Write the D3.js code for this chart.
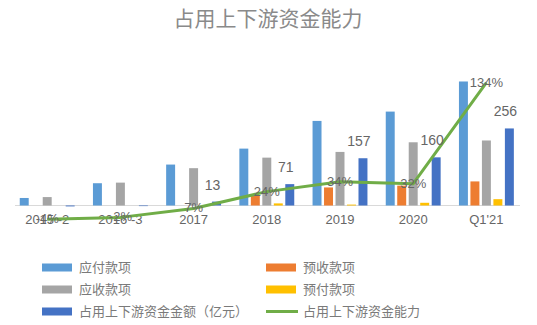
<!DOCTYPE html>
<html><head><meta charset="utf-8">
<script src="https://cdn.jsdelivr.net/npm/d3@7"></script>
<style>body{margin:0;background:#fff}svg{display:block}</style>
</head><body>
<script>
const categories = ["2015 -2", "2016 -3", "2017", "2018", "2019", "2020", "Q1'21"];
const payables = [25, 74, 136, 189, 281, 312, 412];        // 应付款项
const advancesReceived = [0, 0, 0, 33, 60, 66, 80];        // 预收款项
const receivables = [28, 76, 124, 159, 178, 210, 216];     // 应收款项
const prepayments = [0, 0, 0, 7, 3, 9, 21];                // 预付款项
const occupiedAmount = [-3, -2, 13, 71, 157, 160, 256];    // 占用上下游资金金额（亿元）
const occupiedRatio = [-0.04, -0.02, 0.07, 0.24, 0.34, 0.32, 1.34]; // 占用上下游资金能力
const amountLabels = ["", "", "13", "71", "157", "160", "256"];
const ratioLabels = ["-4%", "-2%", "7%", "24%", "34%", "32%", "134%"];

const seriesNames = ["应付款项", "预收款项", "应收款项", "预付款项", "占用上下游资金金额（亿元）"];
const seriesColors = ["#5B9BD5", "#ED7D31", "#A5A5A5", "#FFC000", "#4472C4"];
const lineName = "占用上下游资金能力";
const lineColor = "#70AD47";

const W = 537, H = 325;
const svg = d3.select("body").append("svg").attr("width", W).attr("height", H);
const font = "'Liberation Sans', Arial, sans-serif";
const cjk = "'Noto Sans CJK SC', sans-serif";

svg.append("text").attr("x", 268).attr("y", 26).attr("text-anchor", "middle")
  .attr("font-family", cjk).attr("font-size", 21).attr("fill", "#8a8a8a").text("占用上下游资金能力");

const x0 = d3.scaleBand().domain(categories).range([10.6, 523]).paddingInner(0.25).paddingOuter(0.125);
const x1 = d3.scaleBand().domain(d3.range(5)).range([0, x0.bandwidth()]).paddingInner(0.22);
const y = d3.scaleLinear().domain([0, 450]).range([205.5, 205.5 - 450 * 0.301]);
const yR = d3.scaleLinear().domain([0, 1.34]).range([215.4, 82.7]);

const series = [payables, advancesReceived, receivables, prepayments, occupiedAmount];

// baseline
svg.append("line").attr("x1", 15).attr("x2", 520).attr("y1", y(0)).attr("y2", y(0))
  .attr("stroke", "#d9d9d9").attr("stroke-width", 1);

const groups = svg.append("g").selectAll("g").data(categories).join("g")
  .attr("transform", d => `translate(${x0(d)},0)`);
groups.selectAll("rect").data((d, i) => series.map((s, k) => ({k, v: s[i]}))).join("rect")
  .attr("x", d => x1(d.k)).attr("width", x1.bandwidth())
  .attr("y", d => Math.min(y(d.v), y(0))).attr("height", d => Math.abs(y(d.v) - y(0)))
  .attr("fill", d => seriesColors[d.k]);

// category axis labels
const xAxis = d3.axisBottom(x0).tickSize(0).tickPadding(9);
const ax = svg.append("g").attr("transform", `translate(0,${y(0)})`).call(xAxis);
ax.select(".domain").remove();
ax.selectAll("text").attr("font-family", font).attr("font-size", 13).attr("fill", "#666666");

// line
const cx = c => x0(c) + x0.bandwidth() / 2;
const line = d3.line().x((d, i) => cx(categories[i])).y(d => yR(d));
svg.append("path").datum(occupiedRatio).attr("d", line).attr("fill", "none")
  .attr("stroke", lineColor).attr("stroke-width", 3).attr("stroke-linejoin", "round");

// ratio labels
svg.append("g").selectAll("text").data(occupiedRatio).join("text")
  .attr("x", (d, i) => cx(categories[i])).attr("y", d => yR(d) + 4)
  .attr("text-anchor", "middle").attr("font-family", font).attr("font-size", 13)
  .attr("fill", "#666666").text((d, i) => ratioLabels[i]);

// amount labels
svg.append("g").selectAll("text").data(occupiedAmount).join("text")
  .attr("x", (d, i) => x0(categories[i]) + x1(4) + x1.bandwidth() / 2 - 4)
  .attr("y", d => y(d) - 12)
  .attr("text-anchor", "middle").attr("font-family", font).attr("font-size", 14)
  .attr("fill", "#666666").text((d, i) => amountLabels[i]);

// legend
const legendItems = [
  {name: seriesNames[0], color: seriesColors[0], col: 0, row: 0, type: "rect"},
  {name: seriesNames[1], color: seriesColors[1], col: 1, row: 0, type: "rect"},
  {name: seriesNames[2], color: seriesColors[2], col: 0, row: 1, type: "rect"},
  {name: seriesNames[3], color: seriesColors[3], col: 1, row: 1, type: "rect"},
  {name: seriesNames[4], color: seriesColors[4], col: 0, row: 2, type: "rect"},
  {name: lineName, color: lineColor, col: 1, row: 2, type: "line"}
];
const colX = [42, 266], rowY = [267.5, 289.5, 311.5];
const lg = svg.append("g").selectAll("g").data(legendItems).join("g")
  .attr("transform", d => `translate(${colX[d.col]},${rowY[d.row]})`);
lg.filter(d => d.type === "rect").append("rect").attr("x", 0).attr("y", -4).attr("width", 30).attr("height", 8)
  .attr("fill", d => d.color);
lg.filter(d => d.type === "line").append("line").attr("x1", 0).attr("x2", 32).attr("y1", 0).attr("y2", 0)
  .attr("stroke", d => d.color).attr("stroke-width", 3);
lg.append("text").attr("x", 37).attr("y", 4.5).attr("font-family", cjk).attr("font-size", 13)
  .attr("fill", "#7a7a7a").text(d => d.name);
</script>
</body></html>
